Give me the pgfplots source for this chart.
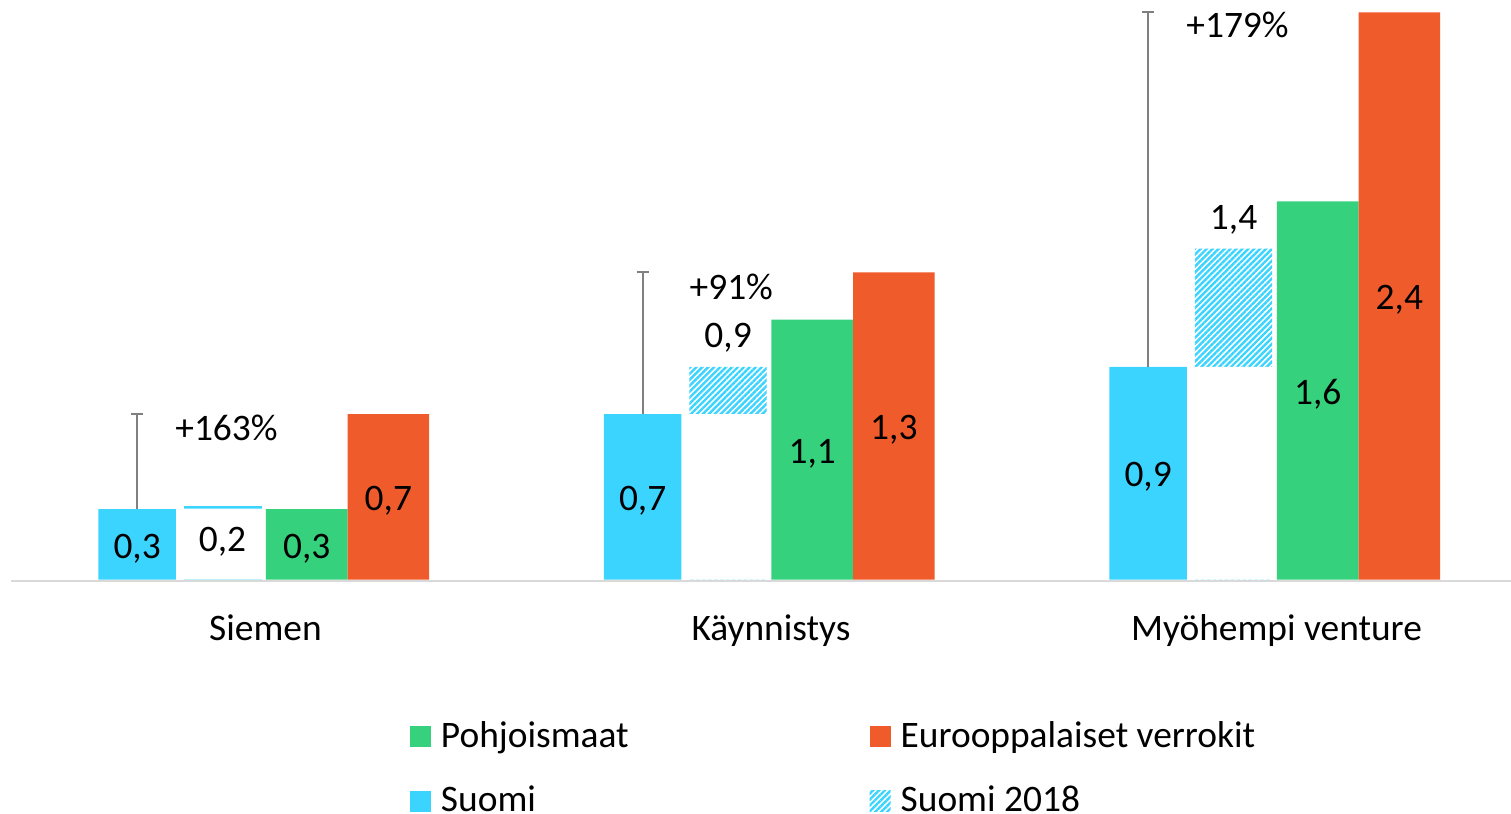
\documentclass[border=0pt]{standalone}
\usepackage{fontspec}
\setmainfont{Carlito}
\usepackage{pgfplots}
\pgfplotsset{compat=1.18}
\usetikzlibrary{patterns.meta}
\definecolor{cyanS}{RGB}{59,212,255}
\definecolor{greenP}{RGB}{53,209,124}
\definecolor{orangeE}{RGB}{240,91,43}
\definecolor{errgray}{RGB}{128,128,128}
\definecolor{axisgray}{RGB}{217,217,217}
\tikzset{hatch/.style={pattern={Lines[angle=45,distance=2.1pt,line width=1.2pt]}, pattern color=cyanS}}
\newcommand{\lblfont}{\fontsize{18.7pt}{22pt}\selectfont}
\pgfplotsset{
  lbl/.style={draw=none, mark=none, forget plot, nodes near coords, point meta=explicit symbolic,
    every node near coord/.append style={anchor=center, font=\lblfont, text=black, inner sep=0pt, yshift=-2pt}},
  pct/.style={draw=none, mark=none, forget plot, nodes near coords, point meta=explicit symbolic,
    every node near coord/.append style={anchor=west, font=\lblfont, text=black, inner sep=0pt}},
}
\begin{document}
\begin{tikzpicture}
\useasboundingbox (0,0) rectangle (755.5pt,407pt);
\begin{axis}[
  at={(5.375pt,117.25pt)}, anchor=south west,
  x=252.75pt, y=118.15pt,
  xmin=-0.5, xmax=2.4679, ymin=0, ymax=2.4524,
  axis on top,
  axis x line*=bottom, axis y line=none,
  x axis line style={draw=axisgray, line width=1pt, yshift=-0.5pt},
  xtick={0,1,2}, xticklabels={Siemen, Käynnistys, Myöhempi venture},
  major tick length=0pt,
  xticklabel style={font=\lblfont, anchor=base, yshift=-30.25pt, xshift=1pt, inner sep=0pt},
  ytick=\empty,
  clip=false,
  legend columns=2,
  legend image code/.code={\fill[#1] (0pt,-5.5pt) rectangle (10.5pt,5pt);},
  legend style={at={(axis cs:0.2898,-0.583)}, anchor=north west, draw=none, fill=none,
     inner sep=0pt, outer sep=0pt,
     font=\lblfont,
     /tikz/every odd column/.append style={column sep=3pt},
     /tikz/every even column/.append style={column sep=118.5pt},
     row sep=14pt},
  legend cell align=left,
]
% legend entries
\addlegendimage{fill=greenP, draw=none}
\addlegendentry{Pohjoismaat}
\addlegendimage{fill=orangeE, draw=none}
\addlegendentry{Eurooppalaiset verrokit}
\addlegendimage{fill=cyanS, draw=none}
\addlegendentry{Suomi}
\addlegendimage{hatch, draw=none}
\addlegendentry{Suomi 2018}

% Suomi with error bars to the European level
\addplot[ybar, bar width=0.1533, bar shift=0pt, fill=cyanS, draw=none, forget plot,
  error bars/.cd, y dir=plus, y explicit,
  error bar style={draw=errgray, line width=1pt},
  error mark options={rotate=90, draw=errgray, line width=1pt, mark size=3pt}]
  coordinates {(-0.25,0.298) +- (0,0.402) (0.75,0.70) +- (0,0.60) (1.75,0.90) +- (0,1.50)};

% Suomi 2018 (hatched segment above Suomi)
\addplot[ybar, bar width=0.153, bar shift=0pt, hatch, draw=none, forget plot]
  coordinates {(0.919,0.90) (1.919,1.40)};
\addplot[ybar, bar width=0.1543, bar shift=0pt, fill=cyanS, draw=none, forget plot]
  coordinates {(-0.081,0.312)};
\addplot[ybar, bar width=0.16, bar shift=0pt, fill=white, draw=none, forget plot]
  coordinates {(-0.081,0.300) (0.919,0.70) (1.919,0.90)};

% Pohjoismaat
\addplot[ybar, bar width=0.162, bar shift=0pt, fill=greenP, draw=none, forget plot]
  coordinates {(0.0855,0.298) (1.0855,1.10) (2.0855,1.60)};
% Eurooppalaiset verrokit
\addplot[ybar, bar width=0.161, bar shift=0pt, fill=orangeE, draw=none, forget plot]
  coordinates {(0.247,0.70) (1.247,1.30) (2.247,2.40)};

% value labels
\addplot[lbl] table[meta=lab] {
x y lab
-0.25 0.149 0,3
0.75 0.35 0,7
1.75 0.45 0,9
0.0855 0.149 0,3
1.0855 0.55 1,1
2.0855 0.80 1,6
0.247 0.35 0,7
1.247 0.65 1,3
2.247 1.20 2,4
-0.081 0.177 0,2
0.919 1.039 0,9
1.919 1.540 1,4
};
\addplot[pct] table[meta=lab] {
x y lab
-0.1751 0.640 +163\%
0.8423 1.239 +91\%
1.825 2.3466 +179\%
};
\end{axis}
\end{tikzpicture}
\end{document}
